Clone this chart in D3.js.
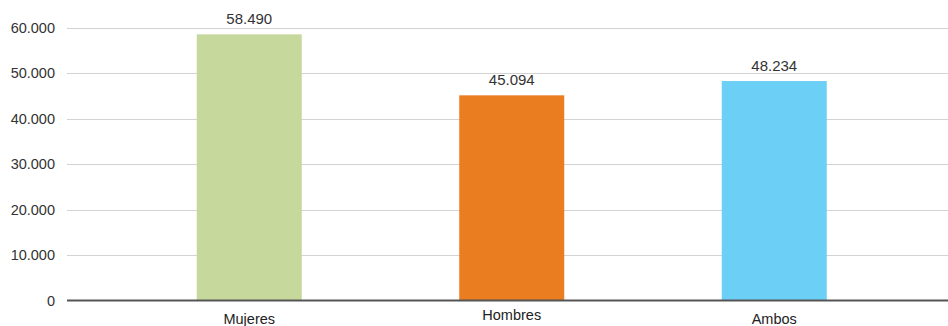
<!DOCTYPE html>
<html>
<head>
<meta charset="utf-8">
<script src="https://cdn.jsdelivr.net/npm/d3@7"></script>
<style>
  html, body { margin: 0; padding: 0; background: #fff; }
  svg { display: block; font-family: "Liberation Sans", Arial, sans-serif; }
</style>
</head>
<body>
<svg id="chart" width="948" height="326"></svg>
<script>
const categories = ["Mujeres", "Hombres", "Ambos"];
const values = [58490, 45094, 48234];
const colors = ["#c6d89b", "#e97d1f", "#6ccff6"];
const yTicks = [0, 10000, 20000, 30000, 40000, 50000, 60000];

(function () {
const svg = d3.select("#chart");
const mLeft = 67, mRight = 948, mTop = 27.5, mBottom = 300.5;

const locale = d3.formatLocale({ decimal: ",", thousands: ".", grouping: [3], currency: ["", "€"] });
const fmt = locale.format(",d");

const y = d3.scaleLinear().domain([0, 60000]).range([mBottom, mTop]);
const x = d3.scaleBand().domain(categories).range([118, 905.5]).paddingInner(0.6).paddingOuter(0.3);

// gridlines
svg.append("g").selectAll("line").data(yTicks.filter(d => d > 0)).join("line")
  .attr("x1", mLeft).attr("x2", mRight)
  .attr("y1", d => Math.round(y(d)) + 0.5).attr("y2", d => Math.round(y(d)) + 0.5)
  .attr("stroke", "#d3d3d3").attr("stroke-width", 1);

// y tick labels
svg.append("g").selectAll("text").data(yTicks).join("text")
  .attr("x", 55).attr("y", d => y(d)).attr("dy", "0.35em")
  .attr("text-anchor", "end").attr("font-size", 14.5).attr("fill", "#333")
  .text(d => fmt(d));

// bars
svg.append("g").selectAll("rect").data(categories).join("rect")
  .attr("x", d => x(d)).attr("width", x.bandwidth())
  .attr("y", (d, i) => y(values[i])).attr("height", (d, i) => y(0) - y(values[i]))
  .attr("fill", (d, i) => colors[i]);

// value labels
svg.append("g").selectAll("text").data(categories).join("text")
  .attr("x", d => x(d) + x.bandwidth() / 2).attr("y", (d, i) => y(values[i]) - 10.5)
  .attr("text-anchor", "middle").attr("font-size", 15).attr("fill", "#333")
  .text((d, i) => fmt(values[i]));

// baseline
svg.append("line").attr("x1", mLeft).attr("x2", mRight)
  .attr("y1", y(0)).attr("y2", y(0)).attr("stroke", "#555").attr("stroke-width", 2);

// category labels
svg.append("g").selectAll("text").data(categories).join("text")
  .attr("x", d => x(d) + x.bandwidth() / 2).attr("y", (d, i) => i % 2 === 1 ? 320 : 324)
  .attr("text-anchor", "middle").attr("font-size", 14.5).attr("fill", "#222")
  .text(d => d);
})();
</script>
</body>
</html>
